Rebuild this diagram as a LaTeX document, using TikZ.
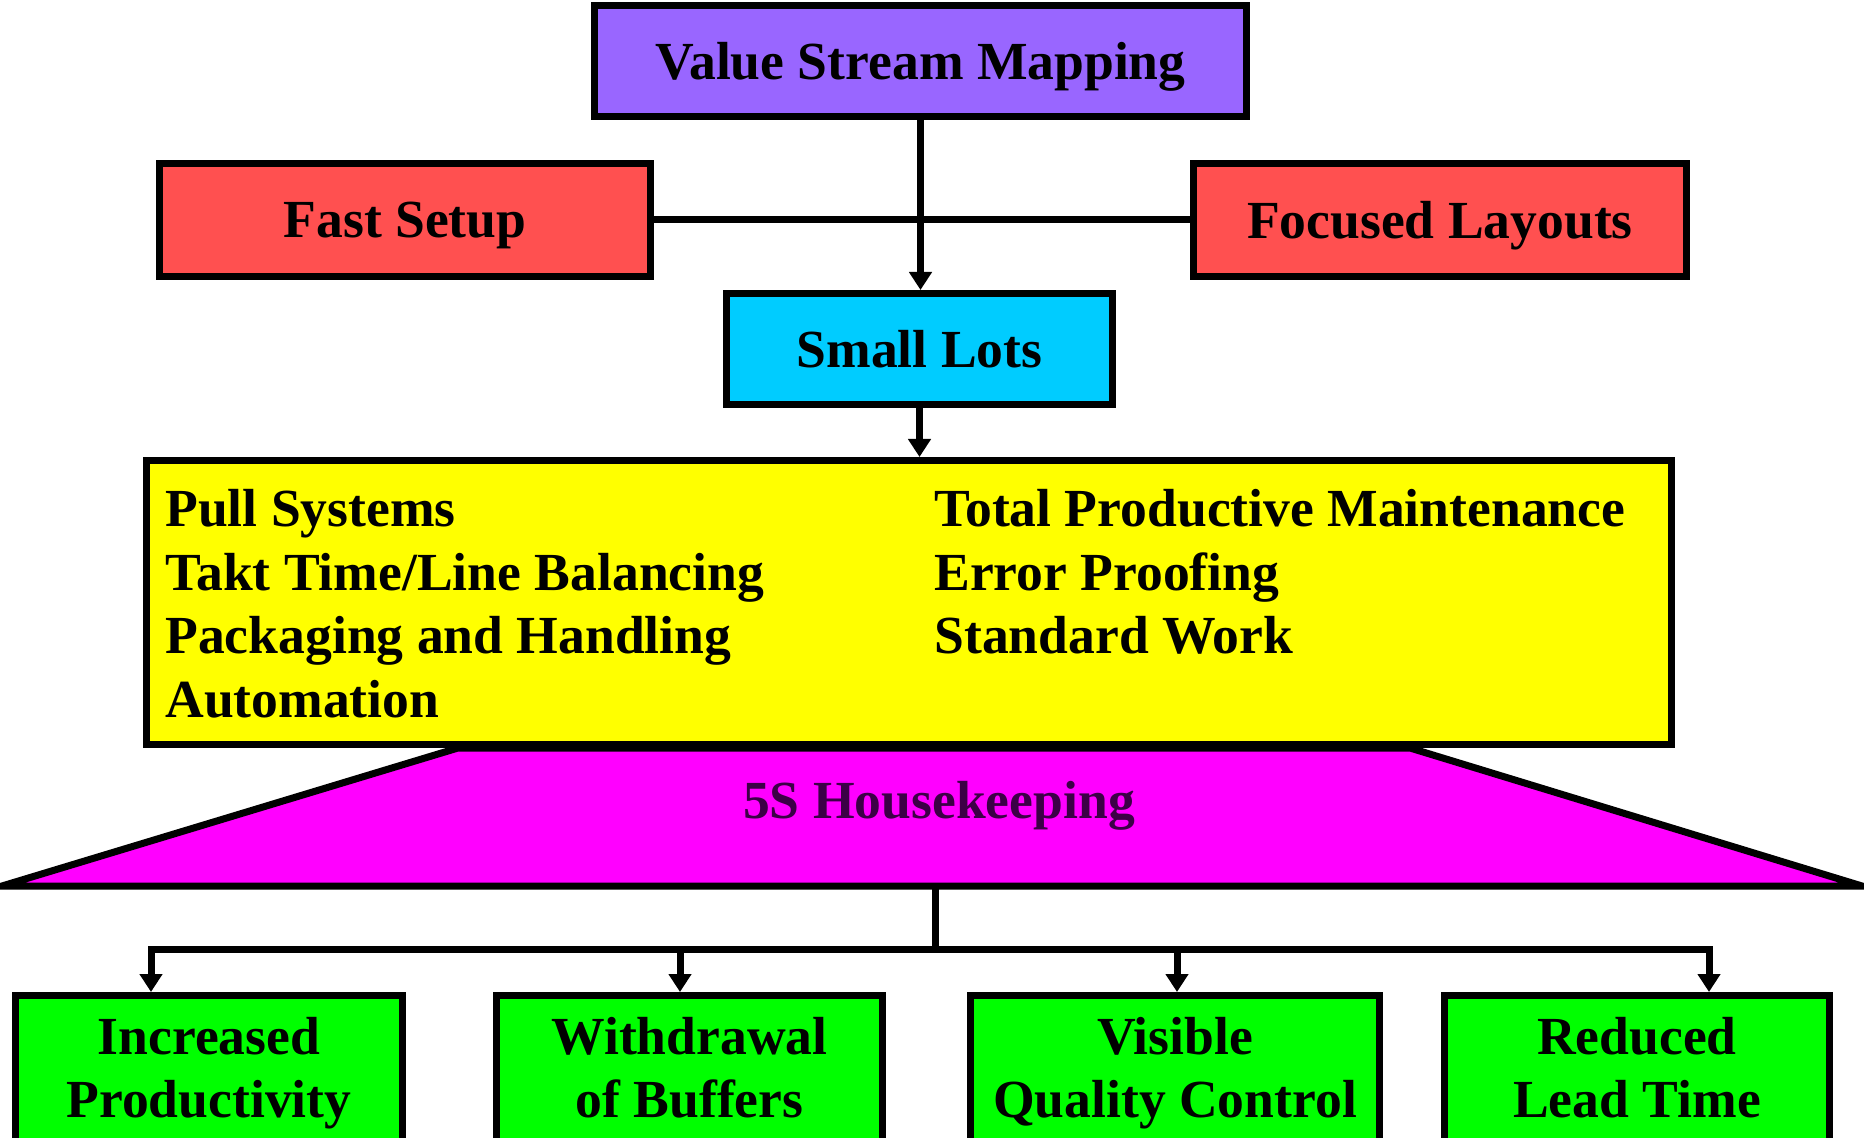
\documentclass[tikz,border=0pt]{standalone}
\usepackage{fontspec}
\setmainfont{Liberation Serif}
\usetikzlibrary{arrows.meta}

\definecolor{vsmviolet}{RGB}{153,102,255}
\definecolor{setupred}{RGB}{255,80,80}
\definecolor{lotcyan}{RGB}{0,204,255}
\definecolor{toolyellow}{RGB}{255,255,0}
\definecolor{fivesmag}{RGB}{255,0,255}
\definecolor{resultgreen}{RGB}{0,255,0}
\definecolor{fivestext}{RGB}{60,0,70}

% even line heights for the two-line result boxes
\newcommand{\evenline}{\vphantom{dy}}

\begin{document}
\begin{tikzpicture}[x=0.5pt,y=-0.5pt,
  bigfont/.style={font=\fontsize{26.8}{31.5}\selectfont\bfseries},
  box/.style={draw=black, line width=3.5pt, rectangle, inner sep=0pt,
              bigfont, align=center},
  onebox/.style={box, text depth=0pt},
  resultbox/.style={box, fill=resultgreen, minimum height=77.5pt},
  link/.style={draw=black, line width=3.5pt},
  arrowlink/.style={link, -{Triangle[length=9pt,width=11pt]}},
  listitem/.style={anchor=base west, inner sep=0pt, bigfont}
]
\useasboundingbox (0,0) rectangle (1864,1138);
\clip (0,0) rectangle (1864,1138);

% top row
\node[onebox, fill=vsmviolet, minimum width=326pt, minimum height=55.5pt]
  (vsm) at (920.5,61) {Value Stream Mapping};
\node[onebox, fill=setupred, minimum width=245.5pt, minimum height=56.5pt]
  (fast) at (405,220) {Fast Setup};
\node[onebox, fill=setupred, minimum width=246.5pt, minimum height=56.5pt]
  (focus) at (1440,220) {Focused Layouts};
\node[onebox, fill=lotcyan, minimum width=193pt, minimum height=55.5pt]
  (small) at (919.5,349) {Small Lots};

% 5S base under the tool box
\coordinate (tl) at (458,748);
\coordinate (tr) at (1410,748);
\coordinate (br) at (1862,886);
\coordinate (bl) at (2,886);
\filldraw[link, fill=fivesmag] (tl) -- (tr) -- (br) -- (bl) -- cycle;
\node[bigfont, text=fivestext, anchor=base, inner sep=0pt]
  (fives) at (939,818) {5S Housekeeping};

% tool box
\node[box, fill=toolyellow, minimum width=762.5pt, minimum height=142pt]
  (tools) at (909,602.5) {};
\node[listitem] (pull) at (165,527) {Pull Systems};
\node[listitem] (takt) at (165,591) {Takt Time/Line Balancing};
\node[listitem] (pack) at (165,654) {Packaging and Handling};
\node[listitem] (auto) at (165,718) {Automation};
\node[listitem] (tpm)  at (934,527) {Total Productive Maintenance};
\node[listitem] (err)  at (934,591) {Error Proofing};
\node[listitem] (std)  at (934,654) {Standard Work};

% results
\node[resultbox, minimum width=193.5pt]
  (r1) at (209,1073) {\evenline Increased\\\evenline Productivity};
\node[resultbox, minimum width=193pt]
  (r2) at (689.5,1073) {\evenline Withdrawal\\\evenline of Buffers};
\node[resultbox, minimum width=204.5pt]
  (r3) at (1175,1073) {\evenline Visible\\\evenline Quality Control};
\node[resultbox, minimum width=192.5pt]
  (r4) at (1637,1073) {\evenline Reduced\\\evenline Lead Time};

% connectors
\draw[link] (fast.east) -- (focus.west);
\draw[arrowlink] (vsm.south) -- (vsm.south |- small.north);
\draw[arrowlink] (small.south) -- (small.south |- tools.north);

\coordinate (basemid) at (935,886);
\coordinate (hub) at (935,949);
\coordinate (t1) at (151,992);
\coordinate (t2) at (680,992);
\coordinate (t3) at (1177,992);
\coordinate (t4) at (1709,992);
\draw[link] (basemid) -- (hub);
\draw[arrowlink] (hub) -| (t1);
\draw[arrowlink] (hub) -| (t2);
\draw[arrowlink] (hub) -| (t3);
\draw[arrowlink] (hub) -| (t4);
\end{tikzpicture}
\end{document}
